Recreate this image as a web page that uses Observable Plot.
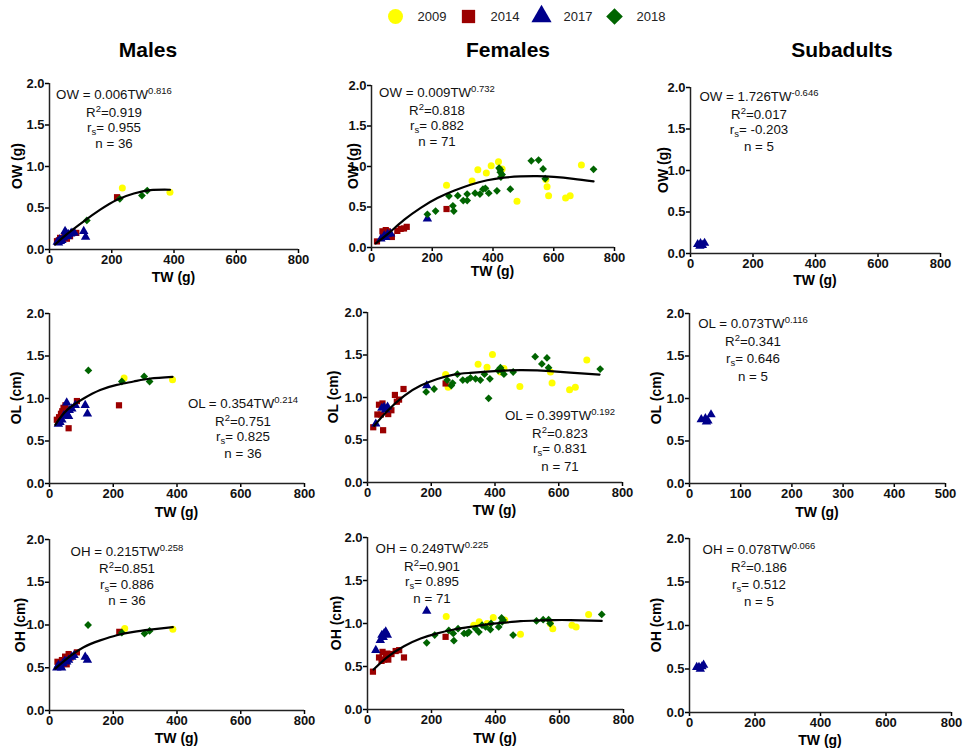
<!DOCTYPE html>
<html><head><meta charset="utf-8">
<script src="https://cdn.jsdelivr.net/npm/d3@7"></script>
<script src="https://cdn.jsdelivr.net/npm/@observablehq/plot@0.6"></script>
<style>
body{margin:0;background:#fff;}
#root{position:relative;width:963px;height:750px;overflow:hidden;font-family:Arial,"Liberation Sans",sans-serif;color:#000;}
.abs{position:absolute;white-space:nowrap;line-height:1;transform:translate(-50%,-50%);}
.ann{font-size:13.3px;color:#111;}
.sup{font-size:9.5px;position:relative;top:-5px;}
.sub{font-size:9.5px;position:relative;top:3px;}
.title{font-size:21px;font-weight:bold;}
.axl{font-size:14px;font-weight:bold;}
.yl{transform:translate(-50%,-50%) rotate(-90deg);}
</style></head>
<body><div id="root"></div>
<script>
const years = ["2009","2014","2017","2018"];
const yearColors = ["#FFFF00","#9B0000","#00008B","#006400"];
const yearSymbols = ["circle","square","triangle","diamond2"];
const yTicks = [0,0.5,1,1.5,2];
const xTicks800 = [0,200,400,600,800];
const xTicks500 = [0,100,200,300,400,500];

// Males: [year, TW (g), value]
const malesOW = [
 ["2009",234,0.74],["2009",387,0.69],
 ["2014",217,0.63],["2014",86,0.20],["2014",24,0.10],["2014",34,0.14],["2014",50,0.15],["2014",56,0.13],["2014",42,0.12],["2014",62,0.17],["2014",30,0.11],["2014",38,0.13],["2014",66,0.16],["2014",48,0.17],
 ["2017",110,0.22],["2017",116,0.15],["2017",50,0.22],["2017",72,0.20],["2017",29,0.08],["2017",40,0.11],["2017",61,0.18],["2017",35,0.10],["2017",45,0.14],["2017",55,0.19],["2017",80,0.20],["2017",25,0.09],["2017",33,0.12],["2017",58,0.16],["2017",68,0.19],
 ["2018",226,0.61],["2018",297,0.65],["2018",314,0.71],["2018",120,0.35]
];
const malesOL = [
 ["2009",234,1.24],["2009",386,1.22],
 ["2014",218,0.92],["2014",86,0.97],["2014",60,0.65],["2014",23,0.75],["2014",36,0.82],["2014",44,0.89],["2014",50,0.92],["2014",54,0.87],["2014",40,0.85],["2014",30,0.78],
 ["2017",112,0.92],["2017",119,0.82],["2017",54,0.95],["2017",28,0.70],["2017",39,0.75],["2017",54,0.82],["2017",60,0.79],["2017",70,0.88],["2017",81,0.92],["2017",33,0.72],["2017",45,0.80],["2017",62,0.86],
 ["2018",122,1.33],["2018",227,1.20],["2018",297,1.26],["2018",314,1.20]
];
const malesOH = [
 ["2009",236,0.96],["2009",387,0.95],
 ["2014",219,0.92],["2014",86,0.68],["2014",25,0.57],["2014",39,0.59],["2014",49,0.63],["2014",60,0.66],["2014",54,0.54],["2014",44,0.555],["2014",32,0.55],["2014",66,0.62],
 ["2017",112,0.625],["2017",119,0.59],["2017",23,0.50],["2017",34,0.52],["2017",54,0.57],["2017",60,0.59],["2017",70,0.625],["2017",77,0.645],["2017",28,0.53],["2017",42,0.55],["2017",48,0.58],["2017",38,0.50],
 ["2018",121,1.00],["2018",227,0.91],["2018",298,0.90],["2018",314,0.93]
];

// Females
const femalesOW = [
 ["2009",247,0.77],["2009",350,0.96],["2009",378,0.92],["2009",394,1.01],["2009",418,1.06],["2009",430,0.97],["2009",331,0.82],["2009",479,0.57],["2009",578,0.75],["2009",583,0.64],["2009",639,0.61],["2009",654,0.64],["2009",691,1.02],["2009",574,0.84],
 ["2014",18,0.075],["2014",36,0.20],["2014",47,0.215],["2014",39,0.16],["2014",58,0.165],["2014",67,0.13],["2014",85,0.205],["2014",96,0.23],["2014",116,0.255],["2014",107,0.235],["2014",247,0.475],["2014",53,0.20],
 ["2017",184,0.355],["2017",31,0.107],["2017",42,0.145],["2017",53,0.165],["2017",63,0.17],["2017",47,0.125],
 ["2018",184,0.41],["2018",211,0.45],["2018",255,0.635],["2018",268,0.515],["2018",271,0.45],["2018",284,0.64],["2018",302,0.58],["2018",315,0.58],["2018",315,0.66],["2018",341,0.67],["2018",357,0.66],["2018",367,0.72],["2018",375,0.73],["2018",386,0.67],["2018",413,0.70],["2018",420,0.98],["2018",424,0.93],["2018",426,0.87],["2018",430,0.90],["2018",424,0.96],["2018",457,0.72],["2018",526,1.07],["2018",550,1.08],["2018",565,0.97],["2018",572,0.85],["2018",731,0.965]
];
const femalesOL = [
 ["2009",245,1.27],["2009",253,1.12],["2009",347,1.39],["2009",375,1.355],["2009",392,1.505],["2009",417,1.30],["2009",428,1.34],["2009",478,1.13],["2009",574,1.30],["2009",579,1.17],["2009",634,1.09],["2009",652,1.12],["2009",688,1.44],
 ["2014",18,0.65],["2014",31,0.80],["2014",36,0.915],["2014",47,0.93],["2014",49,0.615],["2014",57,0.875],["2014",65,0.805],["2014",75,0.85],["2014",86,1.03],["2014",92,0.95],["2014",99,0.975],["2014",113,1.10],["2014",245,1.165],["2014",42,0.80],
 ["2017",26,0.69],["2017",45,0.875],["2017",52,0.885],["2017",57,0.855],["2017",63,0.89],["2017",186,1.14],
 ["2018",184,1.065],["2018",209,1.10],["2018",250,1.205],["2018",263,1.14],["2018",267,1.17],["2018",282,1.275],["2018",299,1.205],["2018",313,1.205],["2018",323,1.23],["2018",339,1.22],["2018",354,1.205],["2018",367,1.275],["2018",384,1.22],["2018",380,0.99],["2018",410,1.32],["2018",417,1.35],["2018",422,1.315],["2018",428,1.275],["2018",457,1.30],["2018",526,1.48],["2018",547,1.395],["2018",563,1.465],["2018",568,1.35],["2018",730,1.335]
];
const femalesOH = [
 ["2009",246,1.08],["2009",332,0.98],["2009",349,1.02],["2009",374,1.00],["2009",393,1.07],["2009",429,1.04],["2009",478,0.875],["2009",571,1.00],["2009",579,0.94],["2009",639,0.98],["2009",652,0.96],["2009",691,1.105],
 ["2014",17,0.44],["2014",36,0.605],["2014",47,0.67],["2014",44,0.565],["2014",57,0.62],["2014",65,0.58],["2014",75,0.645],["2014",88,0.68],["2014",99,0.69],["2014",114,0.605],["2014",244,0.845],["2014",52,0.58],["2014",62,0.65],
 ["2017",26,0.69],["2017",40,0.805],["2017",45,0.865],["2017",52,0.885],["2017",57,0.905],["2017",62,0.865],["2017",49,0.84],["2017",185,1.145],
 ["2018",185,0.775],["2018",210,0.865],["2018",254,0.92],["2018",268,0.885],["2018",270,0.80],["2018",283,0.94],["2018",302,0.885],["2018",312,0.885],["2018",317,0.90],["2018",338,0.94],["2018",348,0.90],["2018",358,0.98],["2018",369,0.96],["2018",384,0.93],["2018",386,1.00],["2018",410,0.96],["2018",419,1.065],["2018",421,1.02],["2018",424,1.04],["2018",455,0.865],["2018",528,1.03],["2018",549,1.045],["2018",566,1.045],["2018",571,1.00],["2018",732,1.105]
];

// Subadults
const subOW = [["2017",23,0.11],["2017",32,0.12],["2017",38,0.10],["2017",45,0.125],["2017",30,0.09]];
const subOL = [["2017",23,0.753],["2017",31,0.765],["2017",33,0.725],["2017",36,0.737],["2017",42,0.81]];
const subOH = [["2017",22,0.52],["2017",33,0.50],["2017",38,0.527],["2017",43,0.546],["2017",29,0.52]];

// Fitted curves as drawn: [TW, value]
const malesOWfit = [[18,0.06],[56,0.185],[110,0.34],[163,0.48],[217,0.60],[271,0.675],[324,0.715],[387,0.72]];
const malesOLfit = [[18,0.69],[54,0.86],[107,1.0],[159,1.10],[211,1.16],[264,1.20],[316,1.235],[386,1.255]];
const malesOHfit = [[18,0.49],[54,0.605],[107,0.74],[159,0.82],[211,0.88],[264,0.92],[316,0.945],[387,0.975]];
const femalesOWfit = [[14,0.05],[53,0.165],[107,0.34],[162,0.49],[217,0.61],[271,0.70],[326,0.775],[381,0.83],[435,0.862],[490,0.878],[545,0.882],[600,0.872],[665,0.848],[731,0.816]];
const femalesOLfit = [[21,0.668],[63,0.845],[115,1.02],[167,1.14],[219,1.218],[271,1.27],[323,1.29],[375,1.305],[428,1.316],[480,1.322],[532,1.318],[584,1.308],[636,1.293],[728,1.27]];
const femalesOHfit = [[19,0.465],[62,0.61],[114,0.735],[166,0.825],[218,0.885],[270,0.93],[322,0.96],[374,0.99],[426,1.01],[478,1.027],[530,1.035],[582,1.04],[634,1.04],[732,1.03]];

// Equation texts
const eqVar = ["OW","OW","OW","OL","OL","OL","OH","OH","OH"];
const eqA = ["0.006","0.009","1.726","0.354","0.399","0.073","0.215","0.249","0.078"];
const eqB = ["0.816","0.732","-0.646","0.214","0.192","0.116","0.258","0.225","0.066"];
const eqR2 = ["0.919","0.818","0.017","0.751","0.823","0.341","0.851","0.901","0.186"];
const eqRs = ["0.955","0.882","-0.203","0.825","0.831","0.646","0.886","0.895","0.512"];
const eqN = ["36","71","5","36","71","5","36","71","5"];
const colTitles = ["Males","Females","Subadults"];
const yLabels = ["OW (g)","OW (g)","OW (g)","OL (cm)","OL (cm)","OL (cm)","OH (cm)","OH (cm)","OH (cm)"];
const xLabel = "TW (g)";

const root = document.getElementById("root");
function addDiv(html, cls, x, y){
  const d = document.createElement("div");
  d.className = "abs " + cls;
  d.innerHTML = html;
  d.style.left = x + "px"; d.style.top = y + "px";
  root.appendChild(d);
}

// Legend
const legend = Plot.plot({
  width: 963, height: 30, margin: 0,
  x: {type: "point", domain: years, range: [394, 615], padding: 0, axis: null},
  color: {domain: years, range: yearColors},
  symbol: {domain: years, range: yearSymbols},
  style: {fontFamily: 'Arial,"Liberation Sans",sans-serif', fontSize: "13px", background: "transparent"},
  marks: [
    Plot.dot(years, {x: d => d, fill: d => d, symbol: d => d, r: 7.5}),
    Plot.text(years, {x: d => d, text: d => d, dx: 22, textAnchor: "start", fontSize: 13, fill: "#222"})
  ]
});
legend.style.position = "absolute"; legend.style.left = "0px"; legend.style.top = "1px";
root.appendChild(legend);

// column titles
[148, 508, 842].forEach((x, i) => addDiv(colTitles[i], "title", x, 49));

const panels = [
  {data: malesOW, fit: malesOWfit, box: [49,298,83,249], xmax: 800, xt: xTicks800, ylx: 17, xly: 277, ann: [114,[95,113,128,144]]},
  {data: femalesOW, fit: femalesOWfit, box: [371,614,85,247], xmax: 800, xt: xTicks800, ylx: 353, xly: 271, ann: [437,[93,111,126,142]]},
  {data: subOW, fit: null, box: [690,940,87,253], xmax: 800, xt: xTicks800, ylx: 663, xly: 280, ann: [759,[97,115,130,147]]},
  {data: malesOL, fit: malesOLfit, box: [49,304,313,483], xmax: 800, xt: xTicks800, ylx: 16, xly: 512, ann: [243,[404,422,437,454]]},
  {data: femalesOL, fit: femalesOLfit, box: [367,622,312,482], xmax: 800, xt: xTicks800, ylx: 333, xly: 510, ann: [560,[416,434,449,467]]},
  {data: subOL, fit: null, box: [689,945,313,483], xmax: 500, xt: xTicks500, ylx: 656, xly: 512, ann: [753,[324,342,359,377]]},
  {data: malesOH, fit: malesOHfit, box: [49,304,539,710], xmax: 800, xt: xTicks800, ylx: 20, xly: 738, ann: [127,[552,569,585,601]]},
  {data: femalesOH, fit: femalesOHfit, box: [367,623,537,709], xmax: 800, xt: xTicks800, ylx: 336, xly: 738, ann: [432,[549,567,582,599]]},
  {data: subOH, fit: null, box: [689,951,538,712], xmax: 800, xt: xTicks800, ylx: 656, xly: 740, ann: [759,[550,568,585,602]]}
];

panels.forEach((p, i) => {
  const [x0, x1, y0, y1] = p.box;
  const ML = 40, MR = 16, MT = 8, MB = 24;
  const chart = Plot.plot({
    width: x1 - x0 + ML + MR, height: y1 - y0 + MT + MB,
    marginLeft: ML, marginRight: MR, marginTop: MT, marginBottom: MB,
    x: {domain: [0, p.xmax]}, y: {domain: [0, 2]},
    color: {domain: years, range: yearColors},
    symbol: {domain: years, range: yearSymbols},
    style: {fontFamily: 'Arial,"Liberation Sans",sans-serif', fontSize: "13px", fontWeight: "bold", background: "transparent", overflow: "visible"},
    marks: [
      Plot.dot(p.data, {x: d => d[1], y: d => d[2], fill: d => d[0], symbol: d => d[0], r: 3.5}),
      p.fit ? Plot.line(p.fit, {x: d => d[0], y: d => d[1], stroke: "black", strokeWidth: 2.2, curve: "natural"}) : null,
      Plot.axisX(p.xt, {tickSize: 4, tickPadding: 1, label: null, strokeWidth: 1.5, tickFormat: d3.format("d"), fill: "#111"}),
      Plot.axisY(yTicks, {tickSize: 4, tickPadding: 1, label: null, strokeWidth: 1.5, tickFormat: d3.format(".1f"), fill: "#111"}),
      Plot.ruleX([0], {strokeWidth: 1.5, stroke: "#222"}),
      Plot.ruleY([0], {strokeWidth: 1.5, stroke: "#222"})
    ]
  });
  chart.style.position = "absolute";
  chart.style.left = (x0 - ML) + "px";
  chart.style.top = (y0 - MT) + "px";
  root.appendChild(chart);

  addDiv(yLabels[i], "axl yl", p.ylx, (y0 + y1) / 2);
  addDiv(xLabel, "axl", (x0 + x1) / 2, p.xly);

  const [cx, ys] = p.ann;
  const lines = [
    `${eqVar[i]} = ${eqA[i]}TW<span class="sup">${eqB[i]}</span>`,
    `R<span class="sup">2</span>=${eqR2[i]}`,
    `r<span class="sub">s</span>= ${eqRs[i]}`,
    `n = ${eqN[i]}`
  ];
  lines.forEach((l, k) => addDiv(l, "ann", cx, ys[k]));
});
</script>
</body></html>
